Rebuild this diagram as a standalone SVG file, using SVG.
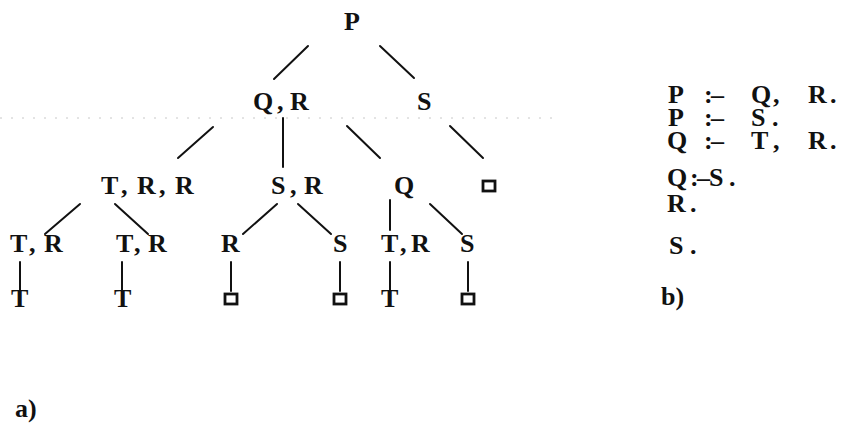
<svg xmlns="http://www.w3.org/2000/svg" width="842" height="427" viewBox="0 0 842 427">
  <style>
    text { font-family: "Liberation Serif", "Times New Roman", serif; font-weight: bold; font-size: 26px; fill: #111; }
    .edge { stroke: #111; stroke-width: 2; stroke-linecap: round; fill: none; }
    .box { fill: none; stroke: #111; stroke-width: 2.8; }
    .rule { stroke: #c8c8c8; stroke-width: 1; stroke-dasharray: 2 9; }
  </style>
  <rect width="842" height="427" fill="#fff"/>

  <!-- faint ruled line behind the second level -->
  <line class="rule" x1="0" y1="118" x2="560" y2="118"/>

  <!-- connectors -->
  <g id="edges">
    <line class="edge" x1="308" y1="46" x2="274" y2="79"/>
    <line class="edge" x1="380" y1="46" x2="414" y2="78"/>
    <line class="edge" x1="213" y1="127" x2="178" y2="158"/>
    <line class="edge" x1="283" y1="118" x2="283" y2="167"/>
    <line class="edge" x1="347" y1="126" x2="380" y2="158"/>
    <line class="edge" x1="450" y1="126" x2="483" y2="158"/>
    <line class="edge" x1="80" y1="204" x2="45" y2="234"/>
    <line class="edge" x1="115" y1="204" x2="148" y2="234"/>
    <line class="edge" x1="277" y1="204" x2="243" y2="234"/>
    <line class="edge" x1="298" y1="204" x2="331" y2="234"/>
    <line class="edge" x1="390" y1="200" x2="390" y2="230"/>
    <line class="edge" x1="430" y1="204" x2="462" y2="234"/>
    <line class="edge" x1="20" y1="262" x2="20" y2="291"/>
    <line class="edge" x1="122" y1="262" x2="122" y2="291"/>
    <line class="edge" x1="231" y1="262" x2="231" y2="291"/>
    <line class="edge" x1="340" y1="262" x2="340" y2="291"/>
    <line class="edge" x1="390" y1="262" x2="390" y2="291"/>
    <line class="edge" x1="468" y1="262" x2="468" y2="291"/>
  </g>

  <!-- level 0 -->
  <g id="n-P"><text x="344" y="30">P</text></g>

  <!-- level 1 -->
  <g id="n-QR"><text x="253 277 290" y="110">Q,R</text></g>
  <g id="n-S"><text x="417" y="110">S</text></g>

  <!-- level 2 -->
  <g id="n-TRR"><text x="101 121 137 159 175" y="194">T,R,R</text></g>
  <g id="n-SR"><text x="271 290 304" y="194">S,R</text></g>
  <g id="n-Q"><text x="394" y="194">Q</text></g>
  <g id="n-empty1"><rect class="box" x="483" y="181" width="12" height="10"/></g>

  <!-- level 3 -->
  <g id="n-TR1"><text x="10 29 44" y="252">T,R</text></g>
  <g id="n-TR2"><text x="116 134 148" y="252">T,R</text></g>
  <g id="n-R"><text x="221" y="252">R</text></g>
  <g id="n-S2"><text x="333" y="252">S</text></g>
  <g id="n-TR3"><text x="381 400 411" y="252">T,R</text></g>
  <g id="n-S3"><text x="460" y="252">S</text></g>

  <!-- level 4 -->
  <g id="n-T1"><text x="11" y="307">T</text></g>
  <g id="n-T2"><text x="114" y="307">T</text></g>
  <g id="n-empty2"><rect class="box" x="225" y="294" width="12" height="10"/></g>
  <g id="n-empty3"><rect class="box" x="334" y="294" width="12" height="10"/></g>
  <g id="n-T3"><text x="381" y="307">T</text></g>
  <g id="n-empty4"><rect class="box" x="462" y="294" width="12" height="10"/></g>

  <text x="15" y="417">a)</text>

  <!-- program clauses -->
  <g id="clauses">
    <text x="668 704 711 751 773 808 830" y="103">P:–Q,R.</text>
    <text x="668 704 711 751 772" y="126">P:–S.</text>
    <text x="667 704 711 751 773 808 830" y="149">Q:–T,R.</text>
    <text x="667 690 697 709 729" y="186">Q:–S.</text>
    <text x="667 690" y="212">R.</text>
    <text x="669 690" y="254">S.</text>
    <text x="661" y="305">b)</text>
  </g>
</svg>
